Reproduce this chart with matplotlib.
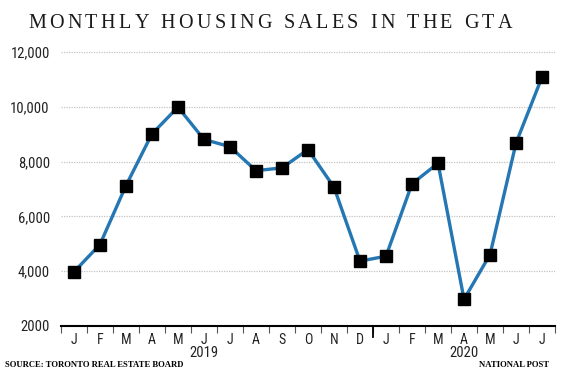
import matplotlib
matplotlib.use("Agg")
import matplotlib.pyplot as plt
from matplotlib.ticker import FixedLocator

months = ["J", "F", "M", "A", "M", "J", "J", "A", "S", "O", "N", "D",
          "J", "F", "M", "A", "M", "J", "J"]
sales = [3970, 4970, 7120, 9010, 9990, 8810, 8545, 7670, 7770, 8440,
         7065, 4365, 4545, 7190, 7940, 2970, 4605, 8680, 11090]
years = ["2019", "2020"]
year_pos = [5, 15]
yticks = [2000, 4000, 6000, 8000, 10000, 12000]
ylabels = ["2000", "4,000", "6,000", "8,000", "10,000", "12,000"]

sans = ["Roboto Condensed", "DejaVu Sans"]
serif = ["Liberation Serif", "DejaVu Serif"]

fig = plt.figure(figsize=(5.8, 3.72), dpi=100)
ax = fig.add_axes([0.105, 0.124, 0.852, 0.736])

x = list(range(len(sales)))
ax.plot(x, sales, color="#2477b3", lw=2.4, zorder=3)
ax.plot(x, sales, ls="none", marker="s", ms=8, mfc="black", mec="black", zorder=4)

ax.set_xlim(-0.5, len(sales) - 0.5)
ax.set_ylim(2000, 12000)

# dotted grid
for v in yticks[1:]:
    ax.axhline(v, color="#c4c4c4", lw=0.9, ls=(0, (1, 1)), zorder=1)

for s in ["top", "right", "left"]:
    ax.spines[s].set_visible(False)
ax.spines["bottom"].set_linewidth(1.5)

ax.set_yticks(yticks)
ax.set_yticklabels(ylabels, family=sans, fontsize=10.5, color="#222222")
ax.tick_params(axis="y", length=0, pad=8)

ax.set_xticks(x)
ax.set_xticklabels(months, family=sans, fontsize=10, color="#222222")
ax.tick_params(axis="x", which="major", length=0, pad=5)
ax.xaxis.set_minor_locator(FixedLocator([i - 0.5 for i in range(len(sales) + 1)]))
ax.tick_params(axis="x", which="minor", length=5, width=0.8, direction="out",
               color="#555555")

# year separator
ax.plot([11.5, 11.5], [0, -0.04], transform=ax.get_xaxis_transform(),
        color="black", lw=1.3, clip_on=False)

for yp, yl in zip(year_pos, years):
    ax.text(yp, -0.075, yl, transform=ax.get_xaxis_transform(), ha="center",
            va="top", family=sans, fontsize=10.5, color="#222222")

# letter-spaced title, spread from x=28 to x=512 px
title = "MONTHLY HOUSING SALES IN THE GTA"
fig.canvas.draw()
r = fig.canvas.get_renderer()
chars = []
for ch in title:
    t = fig.text(0, 1 - 23.5 / 372, ch, family=serif, fontsize=14.5,
                 va="center", ha="left", color="#1a1a1a")
    w = t.get_window_extent(r).width if ch != " " else 5
    chars.append((t, w))
spacing = (512 - 28 - sum(w for _, w in chars)) / (len(chars) - 1)
xpos = 28
for t, w in chars:
    t.set_x(xpos / 580)
    xpos += w + spacing

fig.text(5 / 580, 1 - 365 / 372, "SOURCE: TORONTO REAL ESTATE BOARD",
         family=serif, fontsize=6.2, weight="bold", va="center", ha="left")
fig.text(549 / 580, 1 - 365 / 372, "NATIONAL POST",
         family=serif, fontsize=6.2, weight="bold", va="center", ha="right")

fig.savefig("out.png", dpi=100)
